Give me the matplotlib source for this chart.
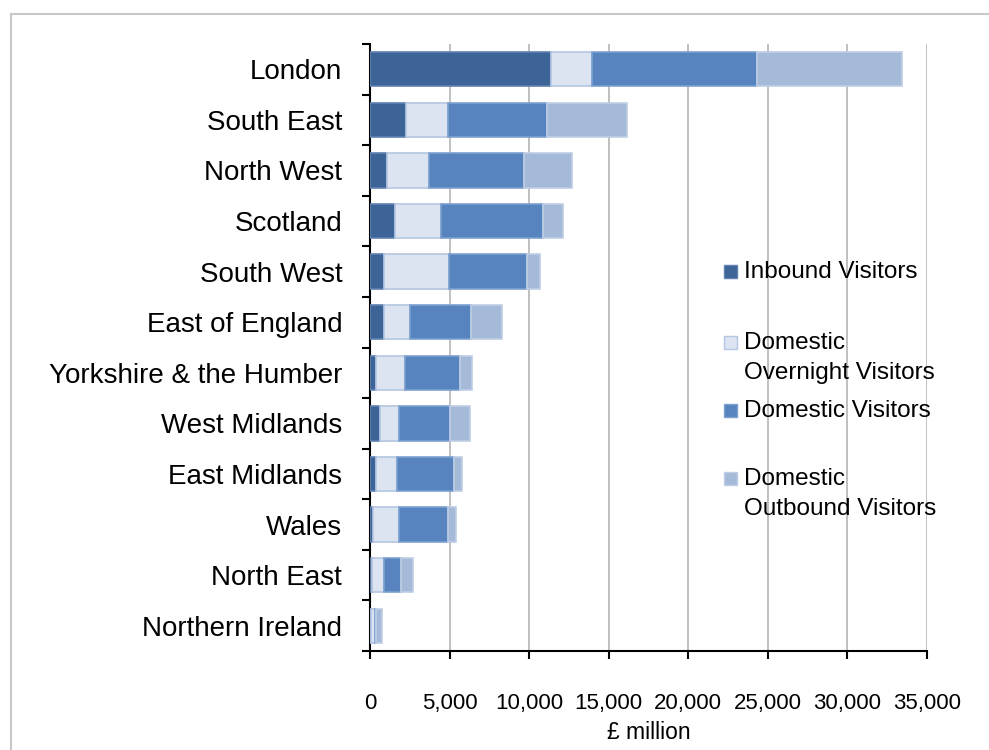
import matplotlib
matplotlib.use("Agg")
import matplotlib.pyplot as plt
from matplotlib.patches import Rectangle
from matplotlib.lines import Line2D
from matplotlib.ticker import StrMethodFormatter, MultipleLocator
import numpy as np

plt.rcParams['font.family'] = ['Liberation Sans', 'DejaVu Sans']

regions = ["London", "South East", "North West", "Scotland", "South West",
           "East of England", "Yorkshire & the Humber", "West Midlands",
           "East Midlands", "Wales", "North East", "Northern Ireland"]

# spend by visitor type, £ million
inbound = [11390, 2240, 1040, 1550, 900, 900, 360, 650, 360, 210, 100, 40]
overnight = [2570, 2650, 2640, 2930, 4080, 1590, 1860, 1170, 1340, 1630, 800, 250]
domestic = [10370, 6250, 5990, 6370, 4900, 3840, 3450, 3180, 3580, 3040, 1070, 60]
outbound = [9130, 5030, 3050, 1250, 800, 1960, 760, 1280, 500, 500, 750, 400]

series = [
    ("Inbound Visitors", inbound, "#3D6496", "#5F82B2"),
    ("Domestic\nOvernight Visitors", overnight, "#DCE4F1", "#B4C6E2"),
    ("Domestic Visitors", domestic, "#5784BE", "#7C9FCF"),
    ("Domestic\nOutbound Visitors", outbound, "#A5BAD9", "#BFCEE6"),
]

W, H = 989, 750
fig = plt.figure(figsize=(W / 100, H / 100), dpi=100)
ax = fig.add_axes([370 / W, 1 - 651 / H, (927 - 370) / W, (651 - 44) / H])

y = np.arange(len(regions))
left = np.zeros(len(regions))
for name, vals, fc, ec in series:
    vals = np.array(vals, dtype=float)
    ax.barh(y, vals, left=left, height=0.68, color=fc, edgecolor=ec,
            linewidth=1.2, zorder=3)
    left += vals

ax.set_xlim(0, 35000)
ax.set_ylim(len(regions) - 0.5, -0.5)
ax.xaxis.set_major_locator(MultipleLocator(5000))
ax.xaxis.set_major_formatter(StrMethodFormatter("{x:,.0f}"))
ax.grid(axis="x", color="#C0C0C0", linewidth=1.4, zorder=0)
ax.set_axisbelow(True)

ax.set_yticks(y)
ax.set_yticklabels(regions, fontsize=20)
ax.set_yticks(np.arange(len(regions) + 1) - 0.5, minor=True)
ax.tick_params(axis="y", which="major", length=0, pad=20)
ax.tick_params(axis="y", which="minor", length=6, width=1.5, direction="out")
ax.tick_params(axis="x", length=6, width=1.5, direction="out", labelsize=16, pad=24)

for s in ["top", "right"]:
    ax.spines[s].set_visible(False)
for s in ["left", "bottom"]:
    ax.spines[s].set_linewidth(1.5)
    ax.spines[s].set_color("black")

ax.set_xlabel("£ million", fontsize=16.5, labelpad=5)

# legend drawn by hand so the swatch sits on the first text line
sw = 13
for (name, vals, fc, ec), yc in zip(series, [271, 342, 410, 478]):
    fig.add_artist(Rectangle((724 / W, 1 - (yc + sw / 2) / H), sw / W, sw / H,
                             facecolor=fc, edgecolor=ec, linewidth=1.0,
                             transform=fig.transFigure))
    for k, line in enumerate(name.split("\n")):
        fig.text(744 / W, 1 - (yc + 1 + 30 * k) / H, line, fontsize=17.5,
                 va="center", ha="left")

# chart frame
fig.add_artist(Line2D([11 / W, 1], [1 - 14 / H, 1 - 14 / H], color="#C8C8C8",
                      linewidth=1.5, transform=fig.transFigure))
fig.add_artist(Line2D([11 / W, 11 / W], [1 - 14 / H, 0], color="#C8C8C8",
                      linewidth=1.5, transform=fig.transFigure))

fig.savefig("out.png", dpi=100)
